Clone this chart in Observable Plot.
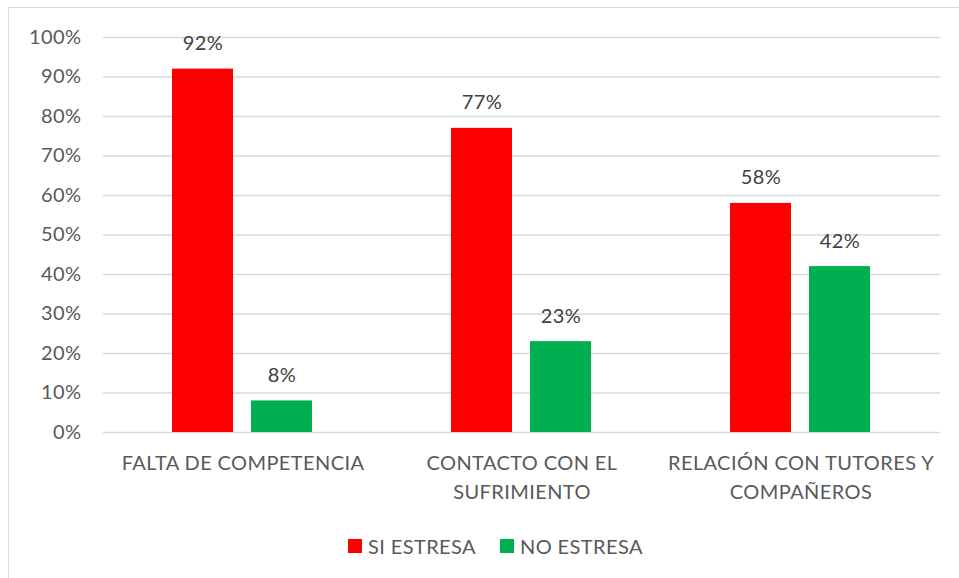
<!DOCTYPE html>
<html>
<head>
<meta charset="utf-8">
<script src="https://cdn.jsdelivr.net/npm/d3@7"></script>
<script src="https://cdn.jsdelivr.net/npm/@observablehq/plot@0.6"></script>
<style>
  html, body { margin: 0; padding: 0; background: #fff; width: 959px; height: 578px; overflow: hidden; }
  #wrap { position: relative; width: 959px; height: 578px; font-family: Lato, "Open Sans", sans-serif; }
  #frame { position: absolute; left: 8px; top: 7px; width: 1000px; height: 1000px; border-left: 1.5px solid #d9d9d9; border-top: 1.5px solid #d9d9d9; box-sizing: border-box; }
  #chart { position: absolute; left: 0; top: 0; }
  #chart svg text { letter-spacing: 0.4px; }
  #legend { position: absolute; left: 0; top: 534px; width: 959px; height: 24px; }
  .item { position: absolute; top: 0; display: flex; align-items: center; font-size: 20px; letter-spacing: 0.4px; color: #595959; height: 24px; white-space: nowrap; }
  .sw { width: 14px; height: 14px; margin-right: 6px; }
</style>
</head>
<body>
<div id="wrap">
  <div id="frame"></div>
  <div id="chart"></div>
  <div id="legend"></div>
</div>
<script>
const categories = ["FALTA DE COMPETENCIA", "CONTACTO CON EL SUFRIMIENTO", "RELACIÓN CON TUTORES Y COMPAÑEROS"];
const categoryLabels = ["FALTA DE COMPETENCIA", "CONTACTO CON EL\nSUFRIMIENTO", "RELACIÓN CON TUTORES Y\nCOMPAÑEROS"];
const series = ["SI ESTRESA", "NO ESTRESA"];
const siEstresa = [92, 77, 58];
const noEstresa = [8, 23, 42];
const colors = ["#ff0000", "#00b050"];
const yTicks = [0, 10, 20, 30, 40, 50, 60, 70, 80, 90, 100];

const data = [];
categories.forEach((c, i) => {
  data.push({category: c, series: series[0], value: siEstresa[i]});
  data.push({category: c, series: series[1], value: noEstresa[i]});
});
const labelOf = new Map(categories.map((c, i) => [c, categoryLabels[i]]));

const chart = Plot.plot({
  width: 959,
  height: 578,
  marginTop: 37,
  marginBottom: 146,
  marginLeft: 102,
  marginRight: 19,
  style: {fontFamily: "Lato, 'Open Sans', sans-serif", background: "transparent"},
  fx: {domain: categories, padding: 0, label: null},
  x: {domain: series, paddingInner: 0.225, paddingOuter: 0.858, axis: null},
  y: {domain: [0, 100], label: null},
  color: {domain: series, range: colors},
  marks: [
    Plot.ruleY(yTicks, {stroke: "#d9d9d9", strokeWidth: 1.5}),
    Plot.barY(data, {fx: "category", x: "series", y: "value", fill: "series"}),
    Plot.text(data, {fx: "category", x: "series", y: "value", text: d => d.value + "%", dy: -19, fontSize: 20, fill: "#404040", lineAnchor: "bottom"}),
    Plot.axisY({ticks: yTicks, tickFormat: d => d + "%", tickSize: 0, tickPadding: 22, fontSize: 20, fill: "#595959", label: null}),
    Plot.axisFx({anchor: "bottom", tickSize: 0, tickPadding: 17, tickFormat: d => labelOf.get(d), fontSize: 20, fill: "#595959", lineHeight: 1.45, label: null})
  ]
});
document.getElementById("chart").appendChild(chart);

const legend = document.getElementById("legend");
const lefts = [348, 500];
series.forEach((s, i) => {
  const item = document.createElement("div");
  item.className = "item";
  item.style.left = lefts[i] + "px";
  const sw = document.createElement("div");
  sw.className = "sw";
  sw.style.background = colors[i];
  item.appendChild(sw);
  item.appendChild(document.createTextNode(s));
  legend.appendChild(item);
});
</script>
</body>
</html>
